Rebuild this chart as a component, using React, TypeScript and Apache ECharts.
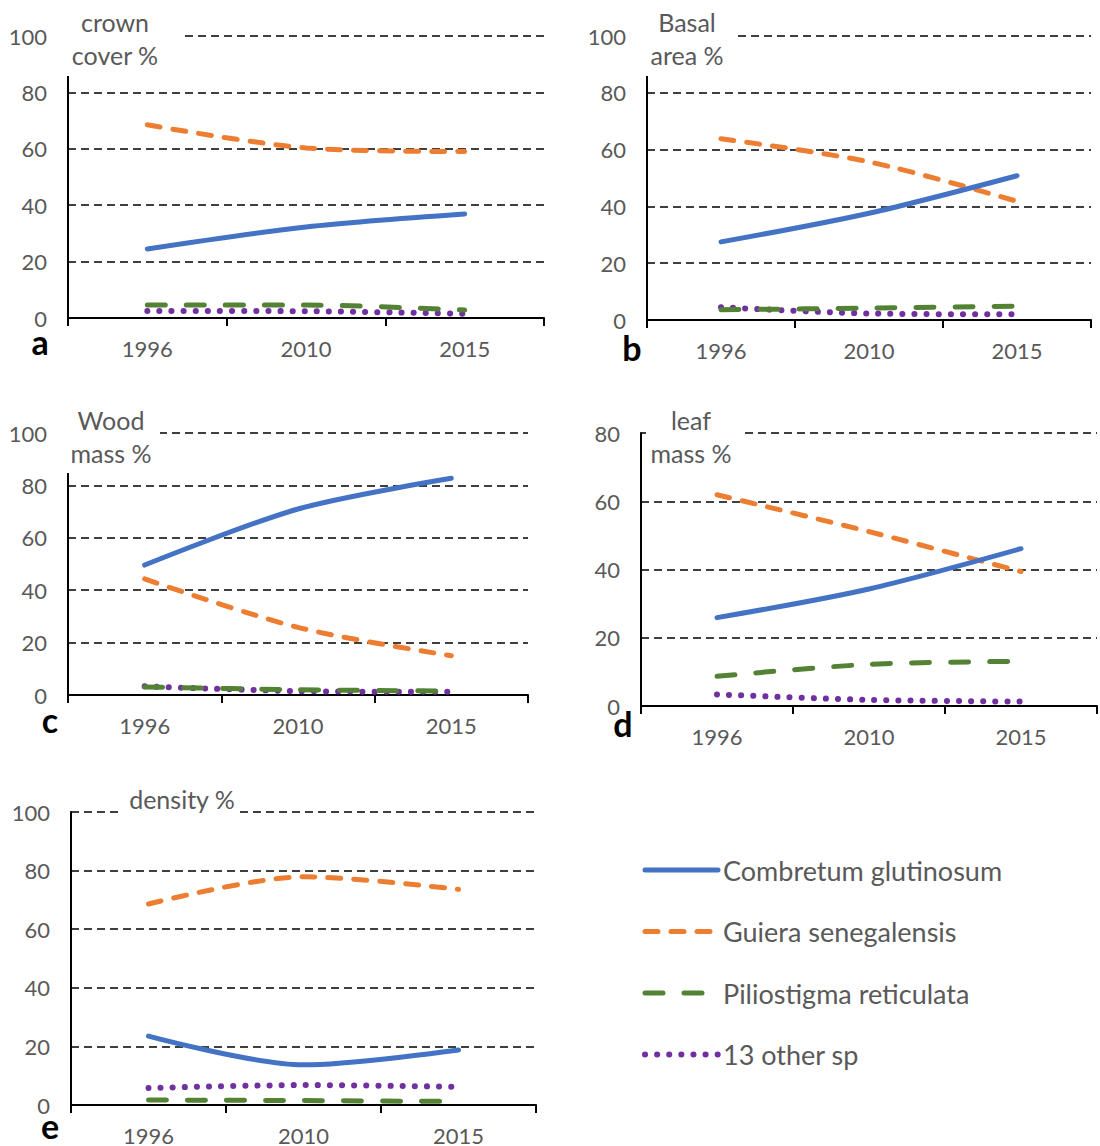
import React, { useEffect, useRef } from 'react';
import * as echarts from 'echarts';

// ---- data ----
const years = ['1996', '2010', '2015'];
const species = ['Combretum glutinosum', 'Guiera senegalensis', 'Piliostigma reticulata', '13 other sp'];
// each: [Combretum, Guiera, Piliostigma, others] x [1996, 2010, 2015]
const crownCover = [[24.5, 32.3, 36.9], [68.5, 60.3, 59.0], [4.6, 4.6, 2.8], [2.5, 2.4, 1.5]];
const basalArea = [[27.5, 37.6, 50.8], [63.8, 55.7, 41.8], [3.6, 4.2, 4.9], [4.5, 2.3, 2.0]];
const woodMass = [[49.6, 71.0, 82.7], [44.3, 25.8, 15.0], [3.1, 2.0, 1.5], [3.3, 1.5, 1.2]];
const leafMass = [[25.9, 34.3, 46.1], [61.9, 51.1, 39.4], [8.7, 12.2, 13.1], [3.4, 1.8, 1.3]];
const density = [[23.5, 13.7, 18.8], [68.6, 77.9, 73.6], [1.7, 1.5, 1.2], [5.8, 6.8, 6.2]];
const panelTitles = [['crown', 'cover %'], ['Basal', 'area %'], ['Wood', 'mass %'], ['leaf', 'mass %'], ['density %']];
const panelLetters = ['a', 'b', 'c', 'd', 'e'];
const panelYMax = [100, 100, 100, 80, 100];

// ---- layout / style ----
const layout = [
  { left: 68, top: 36, width: 476, height: 282, letter: [40, 341], titleX: 115, titleY: [22, 55], mask: [60, 0, 122, 76] },
  { left: 647, top: 36, width: 444, height: 284, letter: [632, 347], titleX: 687, titleY: [22, 55], mask: [639, 0, 94, 76] },
  { left: 68, top: 433, width: 460, height: 262, letter: [50, 719], titleX: 111, titleY: [420, 453], mask: [60, 398, 100, 75] },
  { left: 641, top: 433, width: 456, height: 273, letter: [623, 723], titleX: 691, titleY: [420, 453], mask: [646, 405, 94, 40] },
  { left: 71, top: 812, width: 465, height: 294, letter: [50, 1125], titleX: 182, titleY: [799], mask: [120, 790, 118, 30] },
];
const colors = ['#4472C4', '#ED7D31', '#548235', '#7030A0'];
const lineStyles: any[] = [
  { width: 5, type: 'solid', cap: 'round' },
  { width: 5, type: [13, 13], cap: 'round' },
  { width: 5, type: [18, 21], cap: 'round' },
  { width: 6, type: [0.1, 12], cap: 'round' },
];
const FONT = 'Lato, "Noto Sans", sans-serif';
const GRAY = '#595959';

export default function App() {
  const ref = useRef<HTMLDivElement>(null);
  useEffect(() => {
    document.body.style.margin = '0';
    if (!ref.current) return;
    const chart = echarts.init(ref.current, undefined, { renderer: 'svg' });
    const datasets = [crownCover, basalArea, woodMass, leafMass, density];

    const grid = layout.map((l) => ({ left: l.left, top: l.top, width: l.width, height: l.height, containLabel: false }));
    const xAxis = layout.map((_, i) => ({
      type: 'category',
      gridIndex: i,
      data: years,
      boundaryGap: true,
      axisLine: { show: true, lineStyle: { color: '#000', width: 2 } },
      axisTick: { show: true, length: 8, lineStyle: { color: '#000', width: 2 } },
      axisLabel: { color: GRAY, fontSize: 22, fontFamily: FONT, margin: 19 },
      splitLine: { show: false },
    }));
    const yAxis = layout.map((_, i) => ({
      type: 'value',
      gridIndex: i,
      min: 0,
      max: panelYMax[i],
      interval: 20,
      axisLine: { show: true, lineStyle: { color: '#000', width: 2 } },
      axisTick: { show: false },
      axisLabel: { color: GRAY, fontSize: 22, fontFamily: FONT, margin: 21 },
      splitLine: { show: true, lineStyle: { color: '#000', width: 1.5, type: [8, 5] } },
    }));
    const series: any[] = [];
    datasets.forEach((ds, p) => {
      ds.forEach((vals, s) => {
        series.push({
          type: 'line',
          name: species[s],
          xAxisIndex: p,
          yAxisIndex: p,
          data: vals,
          symbol: 'none',
          smooth: 0.3,
          color: colors[s],
          lineStyle: { color: colors[s], ...lineStyles[s] },
          z: 10 - s,
        });
      });
    });

    const graphics: any[] = [];
    layout.forEach((l, i) => {
      graphics.push({
        type: 'rect',
        z: 100,
        shape: { x: l.mask[0], y: l.mask[1], width: l.mask[2], height: l.mask[3] },
        style: { fill: '#fff' },
      });
      panelTitles[i].forEach((t, j) => {
        graphics.push({
          type: 'text',
          z: 101,
          x: l.titleX,
          y: l.titleY[j],
          style: { text: t, fill: GRAY, font: `25px ${FONT}`, textAlign: 'center', textVerticalAlign: 'middle' },
        });
      });
      graphics.push({
        type: 'text',
        z: 101,
        x: l.letter[0],
        y: l.letter[1],
        style: { text: panelLetters[i], fill: '#000', font: `bold 34px ${FONT}`, textAlign: 'center', textVerticalAlign: 'middle' },
      });
    });

    chart.setOption({
      animation: false,
      backgroundColor: '#fff',
      grid,
      xAxis,
      yAxis,
      series,
      legend: {
        orient: 'vertical',
        left: 642,
        top: 856,
        itemWidth: 73,
        itemHeight: 14,
        itemGap: 33.5,
        padding: 0,
        selectedMode: false,
        data: species.map((name, s) => ({
          name,
          itemStyle: { opacity: 0, color: 'transparent', borderWidth: 0 },
          lineStyle: { color: colors[s], ...lineStyles[s] },
        })),
        textStyle: { color: GRAY, fontSize: 27, fontFamily: FONT, lineHeight: 28, padding: [0, 0, 0, 0] },
      },
      graphic: graphics,
    });
    return () => chart.dispose();
  }, []);
  return <div ref={ref} style={{ position: 'absolute', left: 0, top: 0, width: 1100, height: 1146 }} />;
}
